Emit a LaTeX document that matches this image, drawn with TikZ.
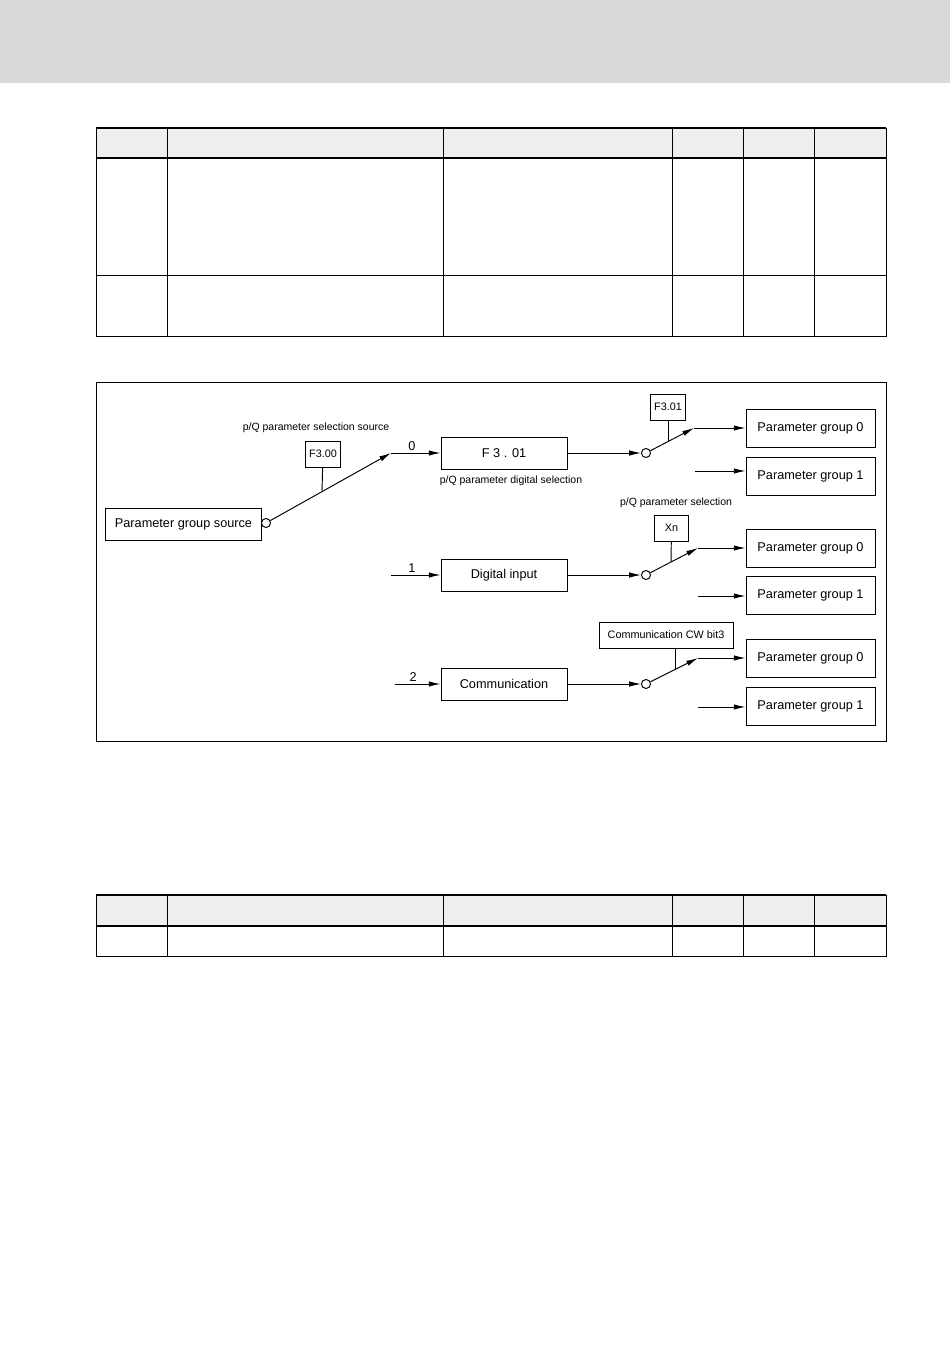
\documentclass[tikz,border=0pt]{standalone}
\usepackage{fontspec}
\setmainfont{Liberation Sans}
\usetikzlibrary{positioning, arrows.meta}
\definecolor{bandgray}{HTML}{D9D9D9}
\definecolor{headgray}{HTML}{EEEEEE}

\begin{document}
\begin{tikzpicture}[
    x=0.221mm, y=-0.221mm,
    line width=0.6pt,
    >={Latex[length=2.6mm, width=1.2mm]},
    blk/.style={rectangle, draw, inner sep=0pt, minimum width=27.85mm, minimum height=7.07mm, font=\fontsize{8}{9}\selectfont},
    grp/.style={rectangle, draw, inner sep=0pt, minimum width=28.5mm, minimum height=8.4mm, font=\fontsize{8}{9}\selectfont},
    par/.style={rectangle, draw, inner sep=0pt, minimum width=7.9mm, minimum height=5.75mm, font=\fontsize{6.8}{8}\selectfont},
    sw/.style={circle, draw, fill=white, inner sep=0pt, minimum size=2mm},
    lbl/.style={font=\fontsize{6.6}{8}\selectfont},
    num/.style={font=\fontsize{8}{9}\selectfont, inner sep=1.5pt}
]
\useasboundingbox (0,0) rectangle (950,1348);
\fill[bandgray] (0,0) rectangle (950,83);

% upper table
\fill[headgray] (96,128) rectangle (886,158);
\draw (96,128) rectangle (886,336);
\draw (96,275) -- (886,275);
\foreach \cx in {167,443,672,743,814}
    \draw (\cx,128) -- (\cx,336);
\draw[line width=1.8pt] (96,128) -- (886,128);
\draw[line width=1.8pt] (96,158) -- (886,158);

% lower table
\fill[headgray] (96,895) rectangle (886,926);
\draw (96,895) rectangle (886,956);
\foreach \cx in {167,443,672,743,814}
    \draw (\cx,895) -- (\cx,956);
\draw[line width=1.8pt] (96,895) -- (886,895);
\draw[line width=1.8pt] (96,926) -- (886,926);

% diagram frame
\draw (96,382) rectangle (886,741);

% source selection
\node[blk, minimum width=34.3mm] (src) at (183.5,524) {Parameter group source};
\node[sw] (sw0) at (266,523) {};
\coordinate (sw0e) at (391,453);
\coordinate (j0) at (322,491);
\node[par] (f300) at (323,454) {F3.00};
\node[lbl] (l300) at (316,428) {p/Q parameter selection source};

% digital selection
\node[blk] (f301) at (504,453) {F 3 . 01};
\node[lbl] (l301) at (511,481) {p/Q parameter digital selection};
\node[sw] (sw1) at (646,453) {};
\coordinate (sw1e) at (694,428);
\node[par] (p301) at (668,407) {F3.01};
\coordinate (j1) at (668,441);
\node[grp] (pg0a) at (810.5,428) {Parameter group 0};
\node[grp] (pg1a) at (810.5,476.5) {Parameter group 1};
\coordinate (q1a) at (695,471);

% digital input
\coordinate (in1) at (391,575);
\node[blk] (dig) at (504,575) {Digital input};
\node[sw] (sw2) at (646,575) {};
\coordinate (sw2e) at (698,548);
\node[lbl] (lxn) at (676,503) {p/Q parameter selection};
\node[par, minimum width=7.7mm] (xn) at (671.5,528) {Xn};
\coordinate (j2) at (671,562);
\node[grp] (pg0b) at (810.5,548) {Parameter group 0};
\node[grp] (pg1b) at (810.5,595) {Parameter group 1};
\coordinate (q1b) at (698,596);

% communication
\coordinate (in2) at (395,684);
\node[blk] (com) at (504,684) {Communication};
\node[sw] (sw3) at (646,684) {};
\coordinate (sw3e) at (698,658);
\node[par, minimum width=29.6mm] (cw) at (666,635) {Communication CW bit3};
\coordinate (j3) at (675,670);
\node[grp] (pg0c) at (810.5,658) {Parameter group 0};
\node[grp] (pg1c) at (810.5,706.5) {Parameter group 1};
\coordinate (q1c) at (698,707);

\draw[->] (sw0) -- (sw0e);
\draw[->] (sw0e) -- node[num, above, pos=0.42] {0} (f301);
\draw (f300) -- (j0);

\draw[->] (f301) -- (sw1);
\draw[->] (sw1) -- (sw1e);
\draw[->] (sw1e) -- (pg0a);
\draw (p301) -- (j1);
\draw[->] (q1a) -- (q1a -| pg1a.west);

\draw[->] (in1) -- node[num, above, pos=0.42] {1} (dig);
\draw[->] (dig) -- (sw2);
\draw[->] (sw2) -- (sw2e);
\draw[->] (sw2e) -- (pg0b);
\draw (xn) -- (j2);
\draw[->] (q1b) -- (q1b -| pg1b.west);

\draw[->] (in2) -- node[num, above, pos=0.4] {2} (com);
\draw[->] (com) -- (sw3);
\draw[->] (sw3) -- (sw3e);
\draw[->] (sw3e) -- (pg0c);
\draw (cw.south -| j3) -- (j3);
\draw[->] (q1c) -- (q1c -| pg1c.west);
\end{tikzpicture}
\end{document}
